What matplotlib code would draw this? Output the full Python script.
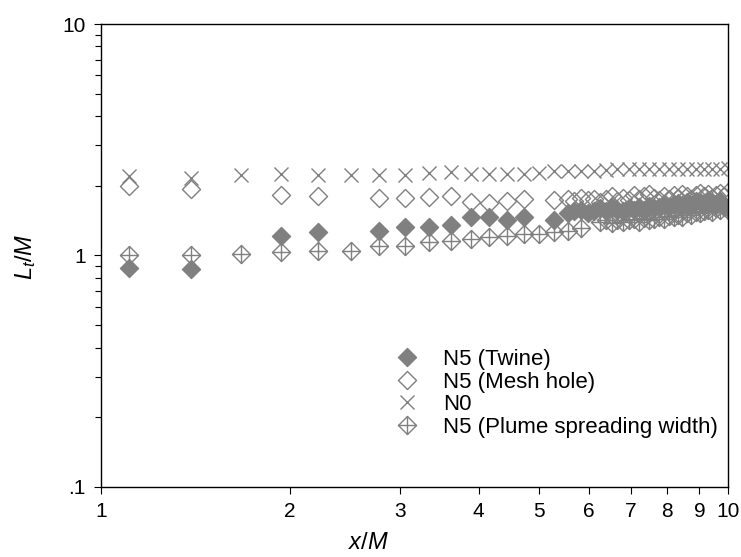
import matplotlib
matplotlib.use("Agg")
import matplotlib.pyplot as plt
from matplotlib.path import Path
from matplotlib.ticker import FixedLocator, FixedFormatter, NullFormatter, LogLocator

plt.rcParams["font.family"] = ["Liberation Sans", "DejaVu Sans"]
plt.rcParams["mathtext.fontset"] = "custom"
plt.rcParams["mathtext.rm"] = "Liberation Sans"
plt.rcParams["mathtext.it"] = "Liberation Sans:italic"

# N0 (no net), sampled every 0.2775 M
n0_x = [1.11, 1.39, 1.67, 1.94, 2.22, 2.50, 2.78, 3.05, 3.33, 3.61, 3.89, 4.16,
        4.44, 4.72, 5.00, 5.27, 5.55, 5.83, 6.11, 6.38, 6.66, 6.94, 7.22, 7.49,
        7.77, 8.05, 8.33, 8.60, 8.88, 9.16, 9.44, 9.71, 9.99]
n0_y = [2.20, 2.17, 2.22, 2.25, 2.23, 2.23, 2.22, 2.22, 2.28, 2.29, 2.26, 2.26,
        2.26, 2.26, 2.28, 2.32, 2.32, 2.32, 2.32, 2.33, 2.36, 2.37, 2.36, 2.37,
        2.36, 2.37, 2.37, 2.36, 2.37, 2.37, 2.37, 2.37, 2.38]

# N5 twine / mesh hole: sparse part then dense part
twine_x = [1.11, 1.39, 1.94, 2.22, 2.78, 3.05, 3.33, 3.61, 3.89, 4.16, 4.44,
           4.72, 5.27, 5.55,
           5.69, 5.83, 5.97, 6.11, 6.24, 6.38, 6.52, 6.66, 6.80, 6.94, 7.08,
           7.22, 7.35, 7.49, 7.63, 7.77, 7.91, 8.05, 8.19, 8.33, 8.46, 8.60,
           8.74, 8.88, 9.02, 9.16, 9.30, 9.44, 9.57, 9.71, 9.85, 9.99]
twine_y = [0.88, 0.87, 1.21, 1.26, 1.27, 1.33, 1.33, 1.36, 1.46, 1.46, 1.43,
           1.46, 1.43, 1.52,
           1.55, 1.58, 1.52, 1.56, 1.60, 1.55, 1.62, 1.58, 1.55, 1.60, 1.57,
           1.62, 1.58, 1.64, 1.60, 1.62, 1.66, 1.62, 1.65, 1.68, 1.64, 1.70,
           1.66, 1.72, 1.70, 1.68, 1.74, 1.70, 1.66, 1.72, 1.64, 1.60]

hole_x = twine_x
hole_y = [2.00, 1.93, 1.83, 1.80, 1.78, 1.78, 1.79, 1.80, 1.70, 1.68, 1.72,
          1.76, 1.74, 1.76,
          1.72, 1.78, 1.74, 1.76, 1.70, 1.76, 1.80, 1.72, 1.78, 1.74, 1.82,
          1.76, 1.80, 1.84, 1.78, 1.74, 1.80, 1.76, 1.82, 1.78, 1.84, 1.80,
          1.76, 1.82, 1.86, 1.80, 1.84, 1.78, 1.82, 1.86, 1.80, 1.88]

# N5 plume spreading width
plume_x = [1.11, 1.39, 1.67, 1.94, 2.22, 2.50, 2.78, 3.05, 3.33, 3.61, 3.89,
           4.16, 4.44, 4.72, 5.00, 5.27, 5.55, 5.83,
           6.24, 6.38, 6.52, 6.66, 6.80, 6.94, 7.08, 7.22, 7.35, 7.49, 7.63,
           7.77, 7.91, 8.05, 8.19, 8.33, 8.46, 8.60, 8.74, 8.88, 9.02, 9.16,
           9.30, 9.44, 9.57, 9.71, 9.85, 9.99]
plume_y = [1.00, 1.00, 1.02, 1.04, 1.05, 1.05, 1.10, 1.10, 1.14, 1.16, 1.18,
           1.20, 1.22, 1.24, 1.24, 1.26, 1.28, 1.32,
           1.40, 1.42, 1.38, 1.43, 1.40, 1.42, 1.44, 1.40, 1.45, 1.42, 1.44,
           1.47, 1.44, 1.48, 1.46, 1.50, 1.47, 1.52, 1.49, 1.54, 1.52, 1.55,
           1.58, 1.54, 1.60, 1.57, 1.62, 1.58]

x_ticks = [1, 2, 3, 4, 5, 6, 7, 8, 9, 10]
y_ticks = [0.1, 1, 10]
y_tick_labels = [".1", "1", "10"]

grey = "#808080"

diamond = Path([(0, 1), (1, 0), (0, -1), (-1, 0), (0, 1)],
               [Path.MOVETO, Path.LINETO, Path.LINETO, Path.LINETO, Path.CLOSEPOLY])
plume_marker = Path([(0, 1), (1, 0), (0, -1), (-1, 0), (0, 1),
                     (0, 1), (0, -1), (-1, 0), (1, 0)],
                    [Path.MOVETO, Path.LINETO, Path.LINETO, Path.LINETO, Path.CLOSEPOLY,
                     Path.MOVETO, Path.LINETO, Path.MOVETO, Path.LINETO])

fig = plt.figure(figsize=(7.41, 5.57), dpi=100)
ax = fig.add_axes([0.1363, 0.1257, 0.8462, 0.8312])

ax.plot(twine_x, twine_y, linestyle="none", marker=diamond, ms=13,
        mfc=grey, mec=grey, mew=1.0, label="N5 (Twine)")
ax.plot(hole_x, hole_y, linestyle="none", marker=diamond, ms=13,
        mfc="none", mec=grey, mew=1.0, label="N5 (Mesh hole)")
ax.plot(n0_x, n0_y, linestyle="none", marker="x", ms=10,
        mec=grey, mew=1.0, label="N0")
ax.plot(plume_x, plume_y, linestyle="none", marker=plume_marker, ms=13,
        mfc="none", mec=grey, mew=1.0, label="N5 (Plume spreading width)")

ax.set_xscale("log")
ax.set_yscale("log")
ax.set_xlim(1, 10)
ax.set_ylim(0.1, 10)

ax.xaxis.set_major_locator(FixedLocator(x_ticks))
ax.xaxis.set_major_formatter(FixedFormatter([str(t) for t in x_ticks]))
ax.xaxis.set_minor_locator(FixedLocator([]))
ax.yaxis.set_major_locator(FixedLocator(y_ticks))
ax.yaxis.set_major_formatter(FixedFormatter(y_tick_labels))
ax.yaxis.set_minor_locator(LogLocator(base=10, subs=range(2, 10)))
ax.yaxis.set_minor_formatter(NullFormatter())

ax.tick_params(which="both", direction="out", top=False, right=False,
               labelsize=15, colors="black")
ax.tick_params(which="major", length=5, width=0.8, pad=6)
ax.tick_params(which="minor", length=4, width=0.8)
for s in ax.spines.values():
    s.set_linewidth(1.0)

fig.text(0.497, 0.025, r"$x/M$", fontsize=17, ha="center", va="center")
fig.text(0.034, 0.54, r"$L_t/M$", fontsize=17, ha="center", va="center",
         rotation=90)

ax.legend(loc="upper left", bbox_to_anchor=(0.453, 0.317), frameon=False,
          fontsize=16, handletextpad=1.0, labelspacing=0.07,
          handlelength=1.2, borderaxespad=0)

fig.savefig("out.png", dpi=100)
